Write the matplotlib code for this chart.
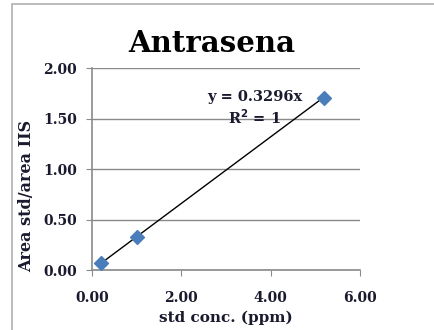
import matplotlib.pyplot as plt
import numpy as np

conc = [0.2, 1.0, 5.2]
ratio = [0.066, 0.33, 1.70]
slope = 0.3296
xticks = [0.0, 2.0, 4.0, 6.0]
yticks = [0.0, 0.5, 1.0, 1.5, 2.0]

plt.rcParams['font.family'] = ['DejaVu Serif']
txt = '#1a1a2e'
gray = '#8a8a8a'

fig = plt.figure(figsize=(4.34, 3.3), dpi=100)
# outer chart border
fig.add_artist(plt.Rectangle((12 / 434, -0.1), 1.2, (330 - 4) / 330 + 0.1,
                             transform=fig.transFigure, fill=False,
                             edgecolor='#b0b0b0', linewidth=1.2))
ax = fig.add_axes([92 / 434, 1 - 270 / 330, (360 - 92) / 434, (270 - 68) / 330])

xl = np.array([conc[0], conc[-1]])
ax.plot(xl, slope * xl, color='black', linewidth=1, zorder=3)
ax.scatter(conc, ratio, marker='D', s=50, color='#4a7ebb', zorder=4)

ax.set_xlim(0, 6)
ax.set_ylim(0, 2)
ax.set_xticks(xticks)
ax.set_yticks(yticks)
ax.set_xticklabels([f'{v:.2f}' for v in xticks])
ax.set_yticklabels([f'{v:.2f}' for v in yticks])
ax.grid(axis='y', color=gray, linewidth=1)
ax.set_axisbelow(True)
for s in ['top', 'right']:
    ax.spines[s].set_visible(False)
for s in ['left', 'bottom']:
    ax.spines[s].set_color(gray)
    ax.spines[s].set_linewidth(1.2)
ax.tick_params(direction='out', length=4, color=gray, labelsize=10, labelcolor=txt)
ax.tick_params(axis='y', pad=7)
ax.tick_params(axis='x', pad=11)
for lab in ax.get_xticklabels() + ax.get_yticklabels():
    lab.set_fontweight('bold')

fig.text(212 / 434, 1 - 52 / 330, 'Antrasena', ha='center', va='baseline',
         fontsize=21, fontweight='bold')
ax.set_xlabel('std conc. (ppm)', fontsize=11, fontweight='bold', color=txt, labelpad=4)
ax.set_ylabel('Area std/area IIS', fontsize=11.5, fontweight='bold', color=txt)
ax.yaxis.set_label_coords(-0.213, 0.366)

ax.text(3.65, 1.71, 'y = 0.3296x', ha='center', va='center', fontsize=10.5, fontweight='bold', color=txt)
ax.text(3.65, 1.51, 'R$^\\mathbf{2}$ = 1', ha='center', va='center', fontsize=10.5, fontweight='bold', color=txt)

fig.savefig('out.png', dpi=100)
